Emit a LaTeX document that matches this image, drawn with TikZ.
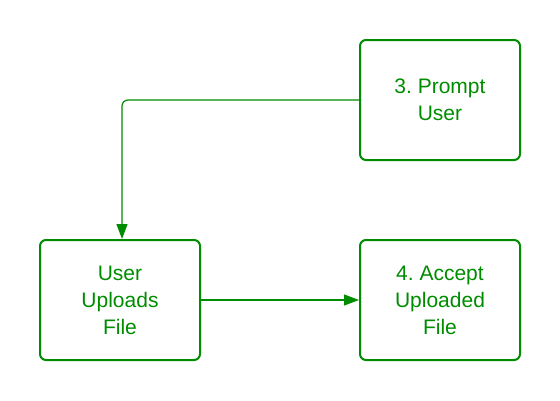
\documentclass[tikz,border=0pt]{standalone}
\usepackage{fontspec}
\setmainfont{Liberation Sans}
\usetikzlibrary{arrows.meta}
\definecolor{gr}{RGB}{0,140,0}
\frenchspacing
\begin{document}
\begin{tikzpicture}[x=1pt,y=-1pt,
  box/.style={draw=gr,line width=2pt,rounded corners=6pt,minimum width=160pt,minimum height=120pt,align=center,text=gr,font=\fontsize{21pt}{27pt}\selectfont,inner sep=0pt},
  conn/.style={draw=gr,line width=1.2pt,-{Triangle[length=15pt,width=11pt]}}]
\useasboundingbox (0,0) rectangle (560,400);
\node[box] (p) at (440,100) {3. Prompt\\User};
\node[box] (u) at (120,300) {User\\Uploads\\File};
\node[box] (a) at (440,300) {4. Accept\\Uploaded\\File};
\draw[conn,rounded corners=6pt] (p.west) -| ([xshift=2pt]u.north);
\draw[conn] (u.east) -- (a.west);
\end{tikzpicture}
\end{document}
